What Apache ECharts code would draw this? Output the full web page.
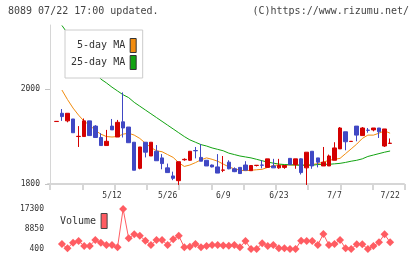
<!DOCTYPE html>
<html lang="en">

<head>
    <meta charset="UTF-8">
    <title>8089 chart</title>
    <style>
        html, body { margin: 0; padding: 0; background: #fff; }
    </style>
</head>

<body onload="setup()">

    <div id="StockChart" style="width: 420px;height: 259px;"></div>
    <script src="https://cdn.jsdelivr.net/npm/echarts@6.0.0/dist/echarts.min.js"></script>
    <script>

        // trading days shown (4/23 .. 7/22)
        var dates = ['4/23', '4/24', '4/25', '4/28', '4/30', '5/1', '5/2', '5/7', '5/8', '5/9',
            '5/12', '5/13', '5/14', '5/15', '5/16', '5/19', '5/20', '5/21', '5/22', '5/23',
            '5/26', '5/27', '5/28', '5/29', '5/30', '6/2', '6/3', '6/4', '6/5', '6/6',
            '6/9', '6/10', '6/11', '6/12', '6/13', '6/16', '6/17', '6/18', '6/19', '6/20',
            '6/23', '6/24', '6/25', '6/26', '6/27', '6/30', '7/1', '7/2', '7/3', '7/4',
            '7/7', '7/8', '7/9', '7/10', '7/11', '7/14', '7/15', '7/16', '7/17', '7/18',
            '7/22']
        var tickLabels = ['5/12', '5/26', '6/9', '6/23', '7/7', '7/22']
        var priceTicks = [1800, 2000]

        var open = [1931.6, 1949, 1933, 1937, 1900, 1900, 1933, 1922, 1898, 1881,
            1922, 1899, 1931, 1920, 1888, 1833, 1888, 1859, 1869, 1855,
            1834, 1817, 1807, 1851, 1850, 1870.5, 1856, 1850, 1840, 1836,
            1829, 1846, 1832, 1835, 1840, 1828, 1839, 1840, 1835, 1838,
            1834, 1835, 1854, 1841, 1853, 1834, 1869, 1855, 1838, 1838,
            1850, 1874, 1910, 1889.5, 1922, 1902, 1913.5, 1914, 1918, 1880,
            1885.5]
        var close = [1932, 1942, 1949, 1908, 1900.5, 1933, 1902, 1898, 1881, 1890,
            1914, 1930, 1918, 1887, 1829, 1878, 1867, 1888, 1849, 1843,
            1824, 1812, 1847, 1852, 1869, 1870, 1848, 1838, 1836, 1823,
            1829.5, 1832, 1826, 1822, 1829, 1839, 1839.5, 1839.5, 1853, 1834,
            1839, 1839, 1841, 1853, 1824, 1867, 1838, 1846, 1846, 1859,
            1876, 1918, 1889, 1890, 1903, 1918, 1913, 1918, 1910, 1916,
            1886]
        var low = [1931.6, 1933, 1930, 1908, 1878, 1900, 1902, 1898, 1881, 1881,
            1914, 1899, 1898, 1887, 1829, 1831, 1856, 1859, 1849, 1831,
            1824, 1808, 1798, 1849, 1849, 1854, 1848, 1838, 1835, 1823,
            1825, 1831, 1825, 1822, 1829, 1828, 1837, 1833, 1835, 1834,
            1832, 1832, 1841, 1832, 1820, 1798, 1832, 1835, 1838, 1838,
            1850, 1874, 1871, 1889.5, 1890, 1902, 1908, 1911, 1897, 1878,
            1885]
        var high = [1932, 1958, 1949, 1937, 1922, 1938, 1933, 1924, 1907, 1914,
            1937, 1935, 1993, 1920, 1888, 1878, 1888, 1888, 1882, 1863,
            1843, 1826, 1847, 1854, 1869, 1878, 1884, 1850, 1841, 1863,
            1859, 1850, 1835, 1835, 1848, 1839, 1840, 1850, 1853, 1853,
            1853, 1839, 1854, 1853, 1854, 1867, 1869, 1855, 1878, 1862,
            1888, 1920, 1910, 1890, 1922, 1920, 1918, 1918, 1918, 1916,
            1896]

        var ma5 = [null, 1998, 1978, 1960, 1945, 1932, 1924, 1913, 1905, 1900,
            1899, 1900, 1905, 1907, 1903, 1896, 1886, 1877, 1870, 1868,
            1862, 1856, 1845, 1837, 1840, 1845, 1851, 1855, 1852, 1848,
            1842, 1836, 1832, 1829, 1828, 1829, 1830, 1831, 1835, 1839,
            1840, 1840, 1840, 1840, 1840, 1840, 1841, 1843, 1846, 1850,
            1852, 1854, 1864, 1874, 1884, 1896, 1903, 1903, 1907, 1912,
            1907]
        var ma25 = [null, 2134, 2118, 2102, 2086, 2070, 2054, 2038, 2021, 2013,
            2004, 1996, 1988, 1982, 1972, 1964, 1956, 1948, 1940, 1932,
            1924, 1916, 1908, 1900, 1893, 1888, 1883, 1880, 1876, 1873,
            1870, 1865, 1862, 1859, 1857, 1855, 1852, 1849, 1846, 1844,
            1842, 1841, 1840.5, 1840, 1839.5, 1839.5, 1839.5, 1841, 1841.5, 1841.5,
            1842.5, 1843.5, 1845.5, 1848, 1850, 1853, 1858, 1861, 1864, 1867,
            1869.5]

        var volume = [null, 2510, 700, 3060, 3780, 1670, 1670, 4200, 3060, 2090,
            2090, 1120, 17300, 4920, 6610, 6020, 3900, 2090, 4200, 4200,
            2090, 4500, 6020, 1120, 1370, 2510, 1120, 1670, 2090, 2090,
            1900, 1800, 2090, 1120, 3780, 400, 400, 2810, 1670, 2090,
            700, 700, 400, 400, 3900, 3780, 3780, 2090, 6740, 2090,
            2510, 4200, 700, 400, 2390, 2390, 400, 1670, 3230, 6610,
            3230]
        var volumeTicks = [400, 8850, 17300]

        var RED = '#d40000'
        var BLUE = '#4048c4'
        var ORANGE = '#f28c0f'
        var GREEN = '#12a312'
        var VOLCOLOR = '#ff5c62'
        var FONT = 'DejaVu Sans Mono'

        // one empty slot before the first day, two after the last
        var PAD_BEFORE = 1
        var PAD_AFTER = 2

        function padded(arr) {
            let out = []
            for (let i = 0; i < PAD_BEFORE; i++) out.push(null)
            arr.forEach(v => out.push(v))
            for (let i = 0; i < PAD_AFTER; i++) out.push(null)
            return out
        }

        function plain(v) { return String(v) }

        var StockChart;
        function setup() {
            StockChart = echarts.init(document.getElementById('StockChart'), null, { renderer: 'canvas' })
            StockChart.setOption(buildOption(), true)
        }

        function buildOption() {
            let cats = padded(dates).map((d, i) => d === null ? ' ' + i : d)
            let candles = padded(dates.map((d, i) => [open[i], close[i], low[i], high[i]]))
                .map(c => c === null ? ['-', '-', '-', '-'] : c)

            return {
                animation: false,
                backgroundColor: '#fff',
                textStyle: { fontFamily: FONT },
                title: [
                    {
                        text: '8089 07/22 17:00 updated.', left: 8, top: 6, padding: 0,
                        textStyle: { fontSize: 10, fontWeight: 'normal', color: '#444', fontFamily: FONT }
                    },
                    {
                        text: '(C)https://www.rizumu.net/', right: 11, top: 6, padding: 0,
                        textStyle: { fontSize: 10, fontWeight: 'normal', color: '#444', fontFamily: FONT }
                    }
                ],
                legend: [
                    {
                        orient: 'vertical', left: 65, top: 30, padding: [8, 6, 8, 6],
                        itemGap: 2, itemWidth: 6, itemHeight: 14, align: 'right',
                        backgroundColor: '#fff', borderColor: '#ccc', borderWidth: 1,
                        selectedMode: false,
                        textStyle: { fontSize: 10, color: '#333', fontFamily: FONT },
                        data: [
                            { name: '5-day MA', icon: 'rect', itemStyle: { color: ORANGE, borderColor: '#333', borderWidth: 1 } },
                            { name: '25-day MA', icon: 'rect', itemStyle: { color: GREEN, borderColor: '#333', borderWidth: 1 } }
                        ]
                    },
                    {
                        left: 60, top: 213, padding: 0, itemWidth: 6, itemHeight: 15, align: 'right',
                        selectedMode: false,
                        textStyle: { fontSize: 10, color: '#333', fontFamily: FONT },
                        data: [
                            { name: 'Volume', icon: 'rect', itemStyle: { color: VOLCOLOR, borderColor: '#444', borderWidth: 1 } }
                        ]
                    }
                ],
                grid: [
                    { left: 48, top: 25, width: 356, height: 159, outerBoundsMode: 'none' },
                    { left: 50, top: 25, width: 355, height: 159, outerBoundsMode: 'none' },
                    { left: 48, top: 209, width: 356, height: 40, outerBoundsMode: 'none' }
                ],
                xAxis: [
                    {
                        type: 'category', gridIndex: 0, data: cats, boundaryGap: true,
                        axisLine: { show: true, lineStyle: { color: '#d6d6d6', width: 2 } },
                        axisTick: { show: false },
                        splitLine: { show: false },
                        axisLabel: {
                            fontSize: 8, color: '#333', fontFamily: FONT, margin: 8,
                            interval: function (idx, value) { return tickLabels.indexOf(value) >= 0 }
                        }
                    },
                    {
                        // plain tick marks under the price axis
                        type: 'value', gridIndex: 1, min: 0, max: 11, interval: 1,
                        axisLine: { show: false },
                        axisTick: { show: true, length: 6, lineStyle: { color: '#d6d6d6', width: 2 } },
                        axisLabel: { show: false },
                        splitLine: { show: false }
                    },
                    {
                        type: 'category', gridIndex: 2, data: cats, boundaryGap: true,
                        axisLine: { show: false }, axisTick: { show: false },
                        axisLabel: { show: false }, splitLine: { show: false }
                    }
                ],
                yAxis: [
                    {
                        type: 'value', gridIndex: 0, min: 1800, max: 2135, offset: -2,
                        axisLine: { show: true, lineStyle: { color: '#d6d6d6', width: 1 } },
                        axisTick: { show: true, length: 5, customValues: priceTicks, lineStyle: { color: '#c4c4c4' } },
                        axisLabel: { fontSize: 8, color: '#333', fontFamily: FONT, margin: 10, customValues: priceTicks, formatter: plain },
                        splitLine: { show: false }
                    },
                    { type: 'value', gridIndex: 1, min: 0, max: 1, show: false },
                    {
                        type: 'value', gridIndex: 2, min: 400, max: 17300,
                        axisLine: { show: false }, axisTick: { show: false },
                        axisLabel: { fontSize: 8, color: '#333', fontFamily: FONT, margin: 4, customValues: volumeTicks, formatter: plain },
                        splitLine: { show: false }
                    }
                ],
                series: [
                    newLine('5-day MA', ma5, ORANGE),
                    newLine('25-day MA', ma25, GREEN),
                    {
                        name: 'candles', type: 'candlestick', xAxisIndex: 0, yAxisIndex: 0, z: 3,
                        barWidth: 4,
                        itemStyle: { color: RED, color0: BLUE, borderColor: RED, borderColor0: BLUE, borderWidth: 1 },
                        data: candles
                    },
                    {
                        name: 'Volume', type: 'line', xAxisIndex: 2, yAxisIndex: 2,
                        symbol: 'diamond', symbolSize: 8, showSymbol: true, showAllSymbol: true,
                        itemStyle: { color: VOLCOLOR },
                        lineStyle: { color: VOLCOLOR, width: 1 },
                        data: padded(volume)
                    }
                ]
            }
        }

        function newLine(name, inpData, color) {
            return {
                name: name,
                type: 'line',
                xAxisIndex: 0,
                yAxisIndex: 0,
                z: 1,
                showSymbol: false,
                smooth: false,
                itemStyle: { color: color },
                lineStyle: { color: color, width: 1 },
                data: padded(inpData)
            }
        }
    </script>
</body>

</html>
